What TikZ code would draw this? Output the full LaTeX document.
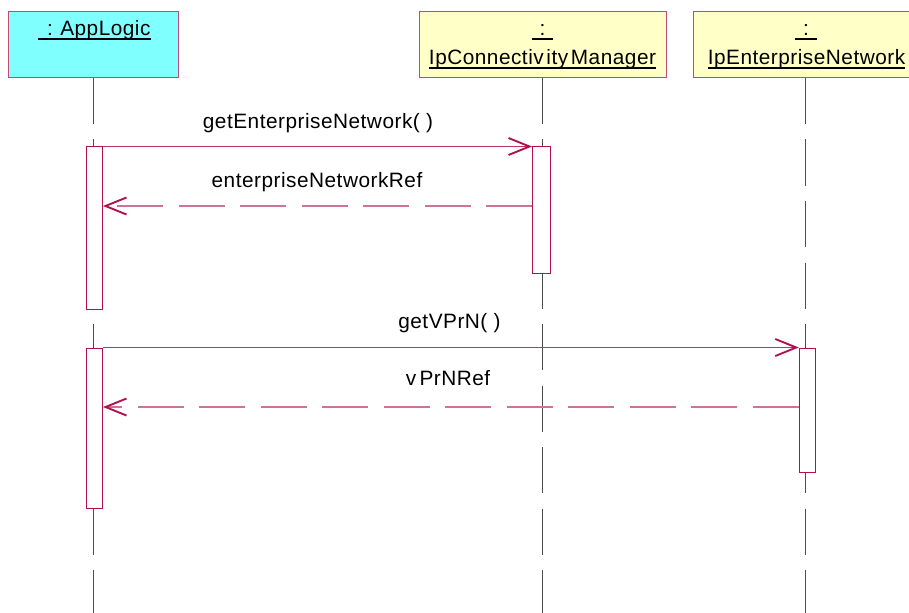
\documentclass[tikz,border=0pt]{standalone}
\usepackage{fontspec}
\setmainfont[LetterSpace=2.4]{Liberation Sans}
\usetikzlibrary{arrows.meta,backgrounds}
\definecolor{umlline}{HTML}{B0104C}
\definecolor{umlbox}{HTML}{C04A76}
\definecolor{umldash}{HTML}{CC7396}
\definecolor{actorfill}{HTML}{80FFFF}
\definecolor{objfill}{HTML}{FFFFC8}
\newsavebox{\ulbox}
\newcommand{\ulx}[1]{\sbox{\ulbox}{#1}\leavevmode\rlap{\rule[-2.8pt]{\wd\ulbox}{0.95pt}}\usebox{\ulbox}}
\tikzset{
  objbox/.style={draw=umlbox,line width=0.75pt,inner sep=0pt,minimum height={66*0.75pt}},
  actbar/.style={draw=umlline,fill=white,line width=0.75pt,inner sep=0pt,minimum width={16.5*0.75pt}},
  lifeline/.style={draw=black!70,line width=0.75pt,dash pattern=on {46*0.75pt} off {15.5*0.75pt}},
  callmsg/.style={draw=umlline!85!white,line width=0.8pt,-{Straight Barb[length={21*0.75pt},width={17*0.75pt},line width=1.4pt,color=umlline]}},
  retmsg/.style={draw=umldash,line width=1.5pt,dash pattern=on {46*0.75pt} off {15.5*0.75pt},-{Straight Barb[length={21*0.75pt},width={17*0.75pt},line width=1.4pt,color=umlline]}},
  lbl/.style={inner sep=0pt,font=\fontsize{15.6pt}{18pt}\selectfont,text=black,anchor=base},
}
\begin{document}
\begin{tikzpicture}[x=0.75pt,y=-0.75pt]
\useasboundingbox (0,0) rectangle (909,613);
\clip (0,0) rectangle (909,613);
% object boxes
\node[objbox,fill=actorfill,minimum width={170*0.75pt}] (app) at (93,45) {};
\node[objbox,fill=objfill,minimum width={247*0.75pt}] (conn) at (542.5,45) {};
\node[objbox,fill=objfill,minimum width={224*0.75pt}] (net) at (805,45) {};
% labels in boxes
\node[lbl] (applbl) at (94.5,36) {\ulx{\hspace*{6.5pt}:\hspace*{5.5pt}AppLogic}};
\node[lbl] (connlbl1) at (542.5,36) {\ulx{\hspace*{6pt}:\hspace*{6pt}}};
\node[lbl] (connlbl2) at (542.5,65) {\ulx{IpConnectiv\kern2pt ity\kern2pt Manager}};
\node[lbl] (netlbl1) at (806,36) {\ulx{\hspace*{6pt}:\hspace*{6pt}}};
\node[lbl] (netlbl2) at (806.5,65) {\ulx{IpEnterpriseNetwork}};
% activation bars
\node[actbar,minimum height={162*0.75pt}] (b1) at (94.25,228) {};
\node[actbar,minimum width={18*0.75pt},minimum height={126*0.75pt}] (b2) at (541.5,210) {};
\node[actbar,minimum height={160*0.75pt}] (b3) at (94.25,428) {};
\node[actbar,minimum height={124*0.75pt}] (b4) at (807.5,410) {};
% lifelines
\coordinate (endapp) at (93,613);
\coordinate (endconn) at (542,613);
\coordinate (endnet) at (805,613);
\begin{scope}[on background layer]
\draw[lifeline] (93,78) -- (endapp);
\draw[lifeline] (542,78) -- (endconn);
\draw[lifeline] (805,78) -- (endnet);
\end{scope}
% messages
\coordinate (r1) at (0,206);
\coordinate (r2) at (0,407);
\draw[callmsg] (b1.north east) -- (b2.north west);
\draw[retmsg] (b2.west |- r1) -- (b1.east |- r1);
\draw[callmsg] (b3.north east) -- (b4.north west);
\draw[retmsg] (b4.west |- r2) -- (b3.east |- r2);
% message labels
\node[lbl] (m1) at (318,129) {getEnterpriseNetwork( )};
\node[lbl] (m2) at (317,187) {enterpriseNetworkRef};
\node[lbl] (m3) at (449.5,328) {getVPrN( )};
\node[lbl] (m4) at (448,385) {v\kern2.5pt PrNRef};
\end{tikzpicture}
\end{document}
